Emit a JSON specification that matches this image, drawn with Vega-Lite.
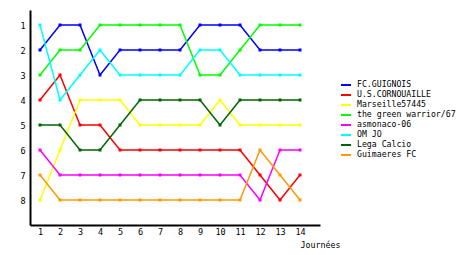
{
"$schema": "https://vega.github.io/schema/vega-lite/v6.json",
"width": 290, "height": 215,
"autosize": "none",
"padding": {"left": 30, "top": 10, "right": 140, "bottom": 30},
"background": "white",
"config": {"view": {"stroke": null}, "font": "DejaVu Sans Mono"},
"data": {"values": [
{"team":"FC.GUIGNOIS","j":1,"rank":2},{"team":"FC.GUIGNOIS","j":2,"rank":1},{"team":"FC.GUIGNOIS","j":3,"rank":1},{"team":"FC.GUIGNOIS","j":4,"rank":3},{"team":"FC.GUIGNOIS","j":5,"rank":2},{"team":"FC.GUIGNOIS","j":6,"rank":2},{"team":"FC.GUIGNOIS","j":7,"rank":2},{"team":"FC.GUIGNOIS","j":8,"rank":2},{"team":"FC.GUIGNOIS","j":9,"rank":1},{"team":"FC.GUIGNOIS","j":10,"rank":1},{"team":"FC.GUIGNOIS","j":11,"rank":1},{"team":"FC.GUIGNOIS","j":12,"rank":2},{"team":"FC.GUIGNOIS","j":13,"rank":2},{"team":"FC.GUIGNOIS","j":14,"rank":2},
{"team":"U.S.CORNOUAILLE","j":1,"rank":4},{"team":"U.S.CORNOUAILLE","j":2,"rank":3},{"team":"U.S.CORNOUAILLE","j":3,"rank":5},{"team":"U.S.CORNOUAILLE","j":4,"rank":5},{"team":"U.S.CORNOUAILLE","j":5,"rank":6},{"team":"U.S.CORNOUAILLE","j":6,"rank":6},{"team":"U.S.CORNOUAILLE","j":7,"rank":6},{"team":"U.S.CORNOUAILLE","j":8,"rank":6},{"team":"U.S.CORNOUAILLE","j":9,"rank":6},{"team":"U.S.CORNOUAILLE","j":10,"rank":6},{"team":"U.S.CORNOUAILLE","j":11,"rank":6},{"team":"U.S.CORNOUAILLE","j":12,"rank":7},{"team":"U.S.CORNOUAILLE","j":13,"rank":8},{"team":"U.S.CORNOUAILLE","j":14,"rank":7},
{"team":"Marseille57445","j":1,"rank":8},{"team":"Marseille57445","j":2,"rank":6},{"team":"Marseille57445","j":3,"rank":4},{"team":"Marseille57445","j":4,"rank":4},{"team":"Marseille57445","j":5,"rank":4},{"team":"Marseille57445","j":6,"rank":5},{"team":"Marseille57445","j":7,"rank":5},{"team":"Marseille57445","j":8,"rank":5},{"team":"Marseille57445","j":9,"rank":5},{"team":"Marseille57445","j":10,"rank":4},{"team":"Marseille57445","j":11,"rank":5},{"team":"Marseille57445","j":12,"rank":5},{"team":"Marseille57445","j":13,"rank":5},{"team":"Marseille57445","j":14,"rank":5},
{"team":"the green warrior/67","j":1,"rank":3},{"team":"the green warrior/67","j":2,"rank":2},{"team":"the green warrior/67","j":3,"rank":2},{"team":"the green warrior/67","j":4,"rank":1},{"team":"the green warrior/67","j":5,"rank":1},{"team":"the green warrior/67","j":6,"rank":1},{"team":"the green warrior/67","j":7,"rank":1},{"team":"the green warrior/67","j":8,"rank":1},{"team":"the green warrior/67","j":9,"rank":3},{"team":"the green warrior/67","j":10,"rank":3},{"team":"the green warrior/67","j":11,"rank":2},{"team":"the green warrior/67","j":12,"rank":1},{"team":"the green warrior/67","j":13,"rank":1},{"team":"the green warrior/67","j":14,"rank":1},
{"team":"asmonaco-06","j":1,"rank":6},{"team":"asmonaco-06","j":2,"rank":7},{"team":"asmonaco-06","j":3,"rank":7},{"team":"asmonaco-06","j":4,"rank":7},{"team":"asmonaco-06","j":5,"rank":7},{"team":"asmonaco-06","j":6,"rank":7},{"team":"asmonaco-06","j":7,"rank":7},{"team":"asmonaco-06","j":8,"rank":7},{"team":"asmonaco-06","j":9,"rank":7},{"team":"asmonaco-06","j":10,"rank":7},{"team":"asmonaco-06","j":11,"rank":7},{"team":"asmonaco-06","j":12,"rank":8},{"team":"asmonaco-06","j":13,"rank":6},{"team":"asmonaco-06","j":14,"rank":6},
{"team":"OM JO","j":1,"rank":1},{"team":"OM JO","j":2,"rank":4},{"team":"OM JO","j":3,"rank":3},{"team":"OM JO","j":4,"rank":2},{"team":"OM JO","j":5,"rank":3},{"team":"OM JO","j":6,"rank":3},{"team":"OM JO","j":7,"rank":3},{"team":"OM JO","j":8,"rank":3},{"team":"OM JO","j":9,"rank":2},{"team":"OM JO","j":10,"rank":2},{"team":"OM JO","j":11,"rank":3},{"team":"OM JO","j":12,"rank":3},{"team":"OM JO","j":13,"rank":3},{"team":"OM JO","j":14,"rank":3},
{"team":"Lega Calcio","j":1,"rank":5},{"team":"Lega Calcio","j":2,"rank":5},{"team":"Lega Calcio","j":3,"rank":6},{"team":"Lega Calcio","j":4,"rank":6},{"team":"Lega Calcio","j":5,"rank":5},{"team":"Lega Calcio","j":6,"rank":4},{"team":"Lega Calcio","j":7,"rank":4},{"team":"Lega Calcio","j":8,"rank":4},{"team":"Lega Calcio","j":9,"rank":4},{"team":"Lega Calcio","j":10,"rank":5},{"team":"Lega Calcio","j":11,"rank":4},{"team":"Lega Calcio","j":12,"rank":4},{"team":"Lega Calcio","j":13,"rank":4},{"team":"Lega Calcio","j":14,"rank":4},
{"team":"Guimaeres FC","j":1,"rank":7},{"team":"Guimaeres FC","j":2,"rank":8},{"team":"Guimaeres FC","j":3,"rank":8},{"team":"Guimaeres FC","j":4,"rank":8},{"team":"Guimaeres FC","j":5,"rank":8},{"team":"Guimaeres FC","j":6,"rank":8},{"team":"Guimaeres FC","j":7,"rank":8},{"team":"Guimaeres FC","j":8,"rank":8},{"team":"Guimaeres FC","j":9,"rank":8},{"team":"Guimaeres FC","j":10,"rank":8},{"team":"Guimaeres FC","j":11,"rank":8},{"team":"Guimaeres FC","j":12,"rank":6},{"team":"Guimaeres FC","j":13,"rank":7},{"team":"Guimaeres FC","j":14,"rank":8}
]},
"mark": {"type": "line", "strokeWidth": 1.5, "point": {"shape": "square", "size": 9, "filled": true}},
"encoding": {
  "x": {"field": "j", "type": "quantitative",
    "scale": {"domain": [0.5, 15], "nice": false, "zero": false},
    "axis": {"values": [1,2,3,4,5,6,7,8,9,10,11,12,13,14], "grid": false, "ticks": false,
      "domainColor": "black", "domainWidth": 2, "labelFontSize": 8.5, "labelColor": "black", "labelPadding": 2,
      "labelFont": "DejaVu Sans Mono",
      "title": "Journées", "titleFont": "DejaVu Sans Mono", "titleFontSize": 8.3, "titleFontWeight": "normal",
      "titleX": 270, "titleY": 22, "titleAlign": "left", "titleBaseline": "alphabetic", "titleColor": "black"}},
  "y": {"field": "rank", "type": "quantitative",
    "scale": {"domain": [0.4, 9], "reverse": true, "nice": false, "zero": false},
    "axis": {"values": [1,2,3,4,5,6,7,8], "grid": false, "ticks": false, "title": null,
      "domainColor": "black", "domainWidth": 2, "labelFontSize": 8.5, "labelColor": "black", "labelPadding": 5,
      "labelFont": "DejaVu Sans Mono"}},
  "color": {"field": "team", "type": "nominal",
    "scale": {"domain": ["FC.GUIGNOIS","U.S.CORNOUAILLE","Marseille57445","the green warrior/67","asmonaco-06","OM JO","Lega Calcio","Guimaeres FC"],
      "range": ["#0000ff","#ff0000","#ffff00","#00ff00","#ff00ff","#00ffff","#006600","#ff9900"]},
    "legend": {"orient": "none", "legendX": 310, "legendY": 69, "title": null, "symbolType": "stroke",
      "symbolSize": 100, "symbolStrokeWidth": 2, "labelFontSize": 8.2, "labelFont": "DejaVu Sans Mono",
      "labelColor": "black", "labelOffset": 5, "rowPadding": 0}}
}
}
